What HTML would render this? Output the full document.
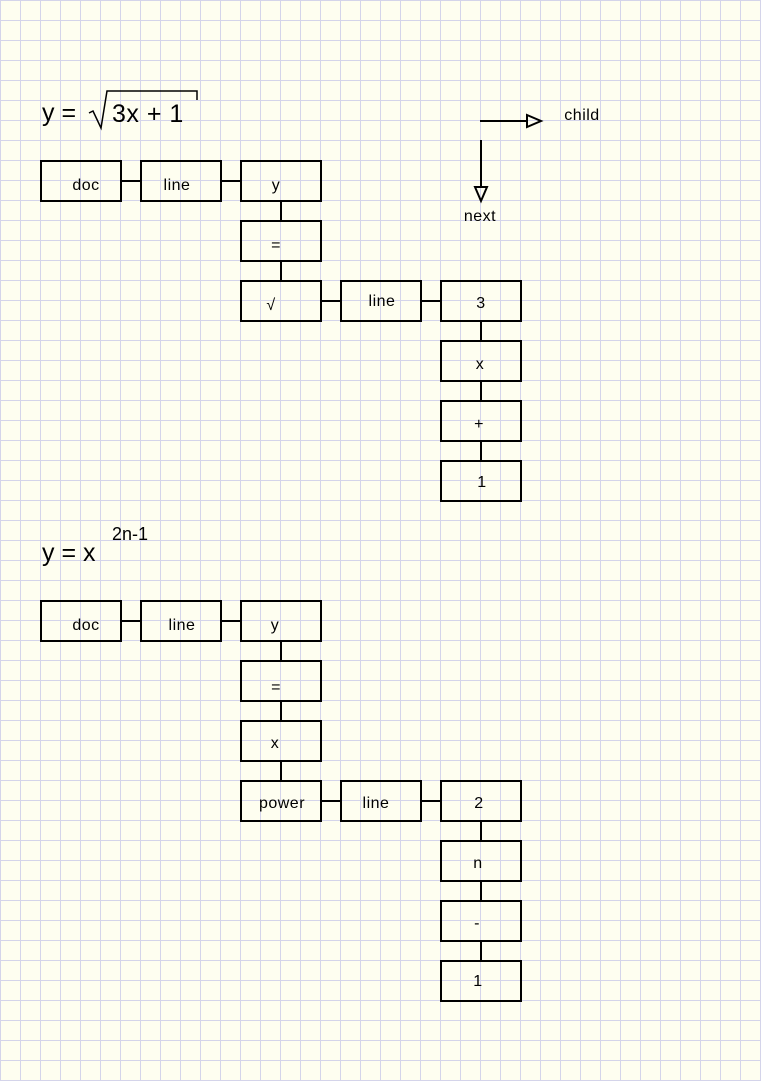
<!DOCTYPE html>
<html><head><meta charset="utf-8"><style>
html,body{margin:0;padding:0;width:761px;height:1081px;overflow:hidden;background:#fefef0;}
svg{display:block}
text{font-family:"Liberation Sans",sans-serif;fill:#000}
</style></head><body>
<svg width="761" height="1081" viewBox="0 0 761 1081" xmlns="http://www.w3.org/2000/svg">
<defs>
<pattern id="g" width="20" height="20" patternUnits="userSpaceOnUse">
<path d="M0.5 0V20M0 0.5H20" stroke="#d4d4ea" stroke-width="1" fill="none"/>
</pattern>
</defs>
<rect width="761" height="1081" fill="#fefef0"/>
<rect width="761" height="1081" fill="url(#g)"/>
<g stroke="#000" stroke-width="2" fill="none">
<rect x="41" y="161" width="80" height="40"/>
<rect x="141" y="161" width="80" height="40"/>
<rect x="241" y="161" width="80" height="40"/>
<rect x="241" y="221" width="80" height="40"/>
<rect x="241" y="281" width="80" height="40"/>
<rect x="341" y="281" width="80" height="40"/>
<rect x="441" y="281" width="80" height="40"/>
<rect x="441" y="341" width="80" height="40"/>
<rect x="441" y="401" width="80" height="40"/>
<rect x="441" y="461" width="80" height="40"/>
<path d="M121 181H141M221 181H241M281 201V221M281 261V281M321 301H341M421 301H441M481 321V341M481 381V401M481 441V461"/>
<rect x="41" y="601" width="80" height="40"/>
<rect x="141" y="601" width="80" height="40"/>
<rect x="241" y="601" width="80" height="40"/>
<rect x="241" y="661" width="80" height="40"/>
<rect x="241" y="721" width="80" height="40"/>
<rect x="241" y="781" width="80" height="40"/>
<rect x="341" y="781" width="80" height="40"/>
<rect x="441" y="781" width="80" height="40"/>
<rect x="441" y="841" width="80" height="40"/>
<rect x="441" y="901" width="80" height="40"/>
<rect x="441" y="961" width="80" height="40"/>
<path d="M121 621H141M221 621H241M281 641V661M281 701V721M281 761V781M321 801H341M421 801H441M481 821V841M481 881V901M481 941V961"/>
<path d="M480 121H527M481 140V187"/>
<path d="M527 115L541 121L527 127Z"/>
<path d="M475 187L481 201L487 187Z"/>
<path d="M89 113L93 111L101 128L107 91H197V100" stroke-width="1.5"/>
</g>
<g font-size="16" text-anchor="middle" letter-spacing="0.5">
<text x="86" y="190">doc</text>
<text x="177" y="190">line</text>
<text x="276" y="190">y</text>
<text x="276" y="250">=</text>
<text x="271" y="310">√</text>
<text x="382" y="306">line</text>
<text x="481" y="308">3</text>
<text x="480" y="369">x</text>
<text x="479" y="429">+</text>
<text x="482" y="487">1</text>
<text x="86" y="630">doc</text>
<text x="182" y="630">line</text>
<text x="275" y="630">y</text>
<text x="276" y="692">=</text>
<text x="275" y="748">x</text>
<text x="282" y="808">power</text>
<text x="376" y="808">line</text>
<text x="479" y="808">2</text>
<text x="478" y="868">n</text>
<text x="477" y="928">-</text>
<text x="478" y="986">1</text>
<text x="582" y="120">child</text>
<text x="480" y="221">next</text>
</g>
<g font-size="25">
<text x="42" y="121">y =</text>
<text x="112" y="122" letter-spacing="0.5">3x + 1</text>
<text x="42" y="561">y = x</text>
</g>
<text x="112" y="540" font-size="18">2n-1</text>
</svg>
</body></html>
